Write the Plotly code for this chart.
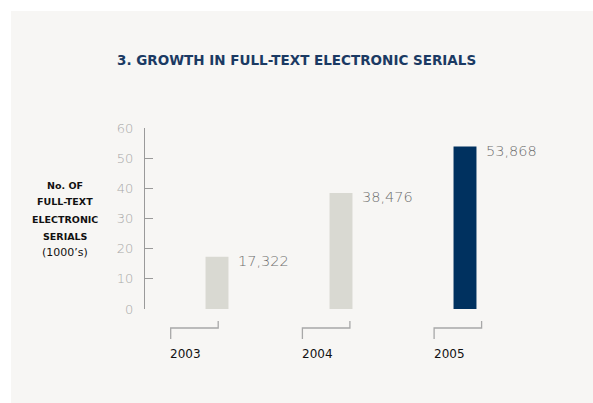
import plotly.graph_objects as go

years = ["2003", "2004", "2005"]
serials_thousands = [17.322, 38.476, 53.868]
value_labels = ["17,322", "38,476", "53,868"]
bar_colors = ["#d9d9d2", "#d9d9d2", "#00315f"]
y_ticks = [0, 10, 20, 30, 40, 50, 60]

W, H = 593, 403
def px(x):
    return x / W
def py(y):
    return 1 - y / H

# axis geometry (pixels)
x_axis_left = 145
x0_center, x_step = 217, 124
y0_px, y60_px = 309, 128

xs = list(range(len(years)))
fig = go.Figure()
fig.add_trace(go.Bar(
    x=xs, y=serials_thousands, width=0.185,
    marker=dict(color=bar_colors, line=dict(width=0)),
    hoverinfo="skip", showlegend=False,
))

x_lo = (x_axis_left - x0_center) / x_step
x_hi = (W - x0_center) / x_step

shapes = [dict(type="rect", xref="paper", yref="paper", x0=px(11), x1=px(593),
               y0=py(403), y1=py(11), fillcolor="#f7f6f4", line=dict(width=0), layer="below")]
annotations = []

for i, (yr, v, lab) in enumerate(zip(years, serials_thousands, value_labels)):
    annotations.append(dict(x=i, y=v, xref="x", yref="y", text=lab, showarrow=False,
                            xanchor="left", yanchor="top", xshift=19, yshift=6,
                            font=dict(family="DejaVu Sans", size=14.5, color="#6e6e6e", weight=200)))
    l = 170.7 + 131.7 * i
    r = l + 47.5
    shapes.append(dict(type="path", xref="paper", yref="paper",
                       path=f"M {px(l)},{py(339)} L {px(l)},{py(328)} L {px(r)},{py(328)} L {px(r)},{py(321)}",
                       line=dict(color="#a8a8a8", width=1.3)))
    annotations.append(dict(x=px(l - 2.5), y=py(354), xref="paper", yref="paper", text=yr,
                            showarrow=False, xanchor="left", yanchor="middle",
                            font=dict(family="DejaVu Sans", size=12, color="#111111")))

annotations.append(dict(x=px(296), y=py(60), xref="paper", yref="paper",
                        text="3. GROWTH IN FULL-TEXT ELECTRONIC SERIALS", showarrow=False,
                        xanchor="center", yanchor="middle",
                        font=dict(family="DejaVu Sans", size=13.5, color="#1b3a63", weight="bold")))

left_lines = ["No. OF", "FULL-TEXT", "ELECTRONIC", "SERIALS"]
for k, t in enumerate(left_lines):
    annotations.append(dict(x=px(65), y=py(185 + 17 * k), xref="paper", yref="paper", text=t,
                            showarrow=False, xanchor="center", yanchor="middle",
                            font=dict(family="DejaVu Sans", size=9.5, color="#111111", weight="bold")))
annotations.append(dict(x=px(65), y=py(252), xref="paper", yref="paper", text="(1000’s)",
                        showarrow=False, xanchor="center", yanchor="middle",
                        font=dict(family="DejaVu Sans", size=11, color="#111111")))

fig.update_layout(
    width=W, height=H, autosize=False,
    margin=dict(l=0, r=0, t=0, b=0, pad=0),
    paper_bgcolor="white", plot_bgcolor="rgba(0,0,0,0)",
    shapes=shapes, annotations=annotations,
    xaxis=dict(domain=[px(x_axis_left), 1.0], range=[x_lo, x_hi], visible=False, fixedrange=True),
    yaxis=dict(domain=[py(y0_px), py(y60_px)], range=[0, 60], tickvals=y_ticks,
               showgrid=False, zeroline=False, showline=True, linecolor="#9a9a9a", linewidth=1.3,
               ticks="inside", ticklen=8, tickwidth=1.3, tickcolor="#9a9a9a",
               ticklabelstandoff=8, automargin=False,
               tickfont=dict(family="DejaVu Sans", size=13, color="#a8a8a8", weight=200),
               fixedrange=True),
)

fig.write_html("out.html", config={"displayModeBar": False},
               post_script="document.body.style.margin='0';document.body.style.overflow='hidden';")
